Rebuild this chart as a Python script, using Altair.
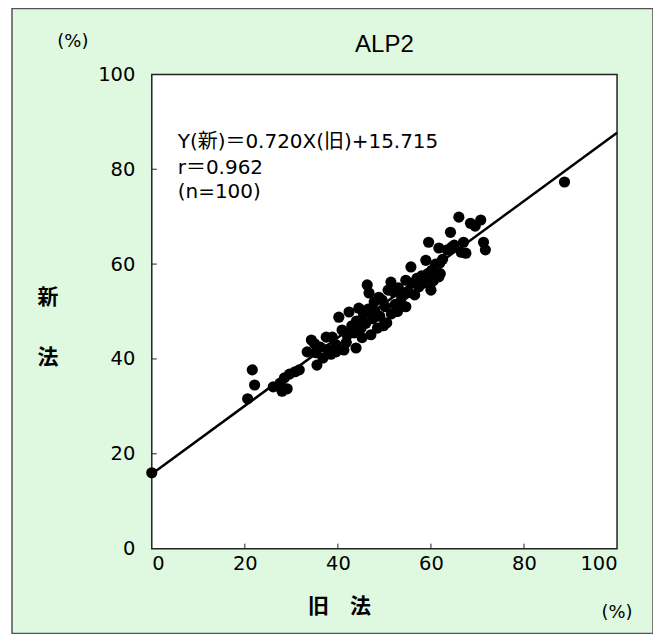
import altair as alt
import pandas as pd

# ---- data ----
old_method = [
    0.0, 88.7,
    20.6, 21.6, 22.1, 26.1, 27.6, 28.5, 29.1, 29.6, 30.8, 31.7, 28.0,
    33.4, 34.3, 35.3, 35.5, 35.0, 36.2, 36.8, 37.5, 37.8, 38.8, 38.5, 39.6, 39.6,
    40.2, 40.9, 41.3, 41.8, 42.4, 42.0, 43.0, 43.5, 43.9, 44.5, 44.0, 45.0, 45.5, 45.2, 46.0, 46.3, 46.7, 46.5,
    47.1, 47.5, 47.8, 48.0, 48.5, 48.8, 49.0, 49.5, 49.8, 50.5, 50.2, 50.8, 51.4, 51.5, 52.0, 52.3, 52.8, 53.0, 53.7, 53.5,
    54.6, 54.2, 54.6, 55.7, 55.2, 56.0, 56.5, 57.4, 57.0, 58.0, 58.5, 58.9, 59.3, 59.5, 60.0, 60.2, 60.5, 61.0, 61.7, 61.7, 61.9, 62.0,
    64.2, 64.5, 65.0, 66.0, 66.5, 67.0, 67.5, 68.5, 70.7, 71.3, 71.7,
    62.5, 63.5, 69.5,
]
new_method = [
    16.0, 77.3,
    31.6, 37.7, 34.5, 34.1, 34.9, 36.0, 33.7, 36.8, 37.3, 37.7, 33.2,
    41.5, 44.0, 41.3, 38.7, 43.2, 42.5, 40.2, 44.6, 42.0, 44.6, 41.0, 41.5, 43.0,
    48.8, 46.1, 41.9, 43.5, 49.9, 45.0, 47.0, 45.5, 42.3, 50.7, 48.0, 46.5, 49.5, 44.5, 47.5, 55.6, 53.9, 50.5,
    45.1, 48.5, 52.0, 50.0, 46.5, 53.0, 49.0, 52.4, 47.0, 47.6, 51.0, 54.5, 56.2, 49.5, 54.1, 51.5, 50.0, 55.0, 53.1, 52.0,
    51.0, 53.5, 56.6, 59.4, 54.0, 56.0, 53.5, 55.2, 57.0, 57.5, 56.0, 60.8, 58.0, 64.6, 54.5, 58.7, 56.5, 60.0, 57.3, 63.4, 60.2, 58.0,
    66.7, 63.6, 64.0, 69.9, 62.5, 64.6, 62.3, 68.6, 69.3, 64.6, 63.0,
    61.0, 63.0, 68.0,
]
tick_values = [0, 20, 40, 60, 80, 100]
inner_ticks = [20, 40, 60, 80]
fit_slope = 0.720
fit_intercept = 15.715
fit_x = [0, 100]
chart_title = "ALP2"
eq_lines = ["Y(新)＝0.720X(旧)+15.715", "r＝0.962", "(n=100)"]
y_title_chars = ["新", "法"]
x_title = "旧　法"
unit_text = "(%)"

# ---- layout ----
W, H = 466, 475
FONT = "DejaVu Sans, Noto Sans CJK JP"
TFONT = "Liberation Sans, Noto Sans CJK JP"
JFONT = "Noto Sans CJK JP"

pts = pd.DataFrame({"old": old_method, "new": new_method})
fit = pd.DataFrame({"old": fit_x, "new": [fit_slope * v + fit_intercept for v in fit_x]})
one = pd.DataFrame({"k": [0]})
tk = pd.DataFrame({"t": inner_ticks})

xs = alt.Scale(domain=[0, 100], nice=False, zero=False)
ys = alt.Scale(domain=[0, 100], nice=False, zero=False)

x_axis = alt.Axis(values=tick_values, domain=False, ticks=False, grid=False,
                  labelFlush=True, labelFontSize=19.5, labelFont=FONT,
                  labelColor="black", labelPadding=6, zindex=1, title=None)
y_axis = alt.Axis(values=tick_values, domain=False, ticks=False, grid=False,
                  labelFlush=False, labelFontSize=19.5, labelFont=FONT,
                  labelColor="black", labelPadding=17, zindex=1, title=None)

X = alt.X("old:Q", scale=xs, axis=x_axis)
Y = alt.Y("new:Q", scale=ys, axis=y_axis)

bg = alt.Chart(one).mark_rect(fill="#dff9e0", stroke="#555555", strokeWidth=1.5).encode(
    x=alt.value(-140), x2=alt.value(502), y=alt.value(-66), y2=alt.value(560))
plotbg = alt.Chart(one).mark_rect(fill="white", stroke="#222222", strokeWidth=1.5).encode(
    x=alt.value(0), x2=alt.value(W), y=alt.value(0), y2=alt.value(H))

points = alt.Chart(pts).mark_circle(size=125, color="black", opacity=1).encode(x=X, y=Y)
line = alt.Chart(fit).mark_line(color="black", strokeWidth=2.5).encode(x=X, y=Y)

xt = alt.Chart(tk).mark_rule(color="#222222", strokeWidth=1).encode(
    x=alt.X("t:Q", scale=xs, axis=x_axis), y=alt.value(H), y2=alt.value(H - 5))
yt = alt.Chart(tk).mark_rule(color="#222222", strokeWidth=1).encode(
    y=alt.Y("t:Q", scale=ys, axis=y_axis), x=alt.value(0), x2=alt.value(5))


def label(txt, x, y, size, font=FONT, align="center", weight="normal"):
    return alt.Chart(one).mark_text(align=align, baseline="middle", fontSize=size,
                                    font=font, color="black", fontWeight=weight).encode(
        x=alt.value(x), y=alt.value(y), text=alt.value(txt))


texts = [
    label(chart_title, 233, -29, 24, font=TFONT),
    label(unit_text, -79, -32, 18),
    label(unit_text, 466, 539, 18),
    label(y_title_chars[0], -104, 224, 21, font=JFONT, weight="bold"),
    label(y_title_chars[1], -104, 284, 21, font=JFONT, weight="bold"),
    label(x_title, 188, 533, 21, font=JFONT, weight="bold"),
    label(eq_lines[0], 26, 68, 20, align="left"),
    label(eq_lines[1], 26, 94, 20, align="left"),
    label(eq_lines[2], 26, 118, 20, align="left"),
]

chart = alt.layer(bg, plotbg, points, line, xt, yt, *texts).properties(
    width=W, height=H,
    padding={"left": 144, "top": 66, "right": 36, "bottom": 85},
    autosize=alt.AutoSizeParams(type="none"),
    background="white",
).configure_view(stroke=None)

chart.save("out.html", embed_options={"renderer": "svg", "actions": False})
